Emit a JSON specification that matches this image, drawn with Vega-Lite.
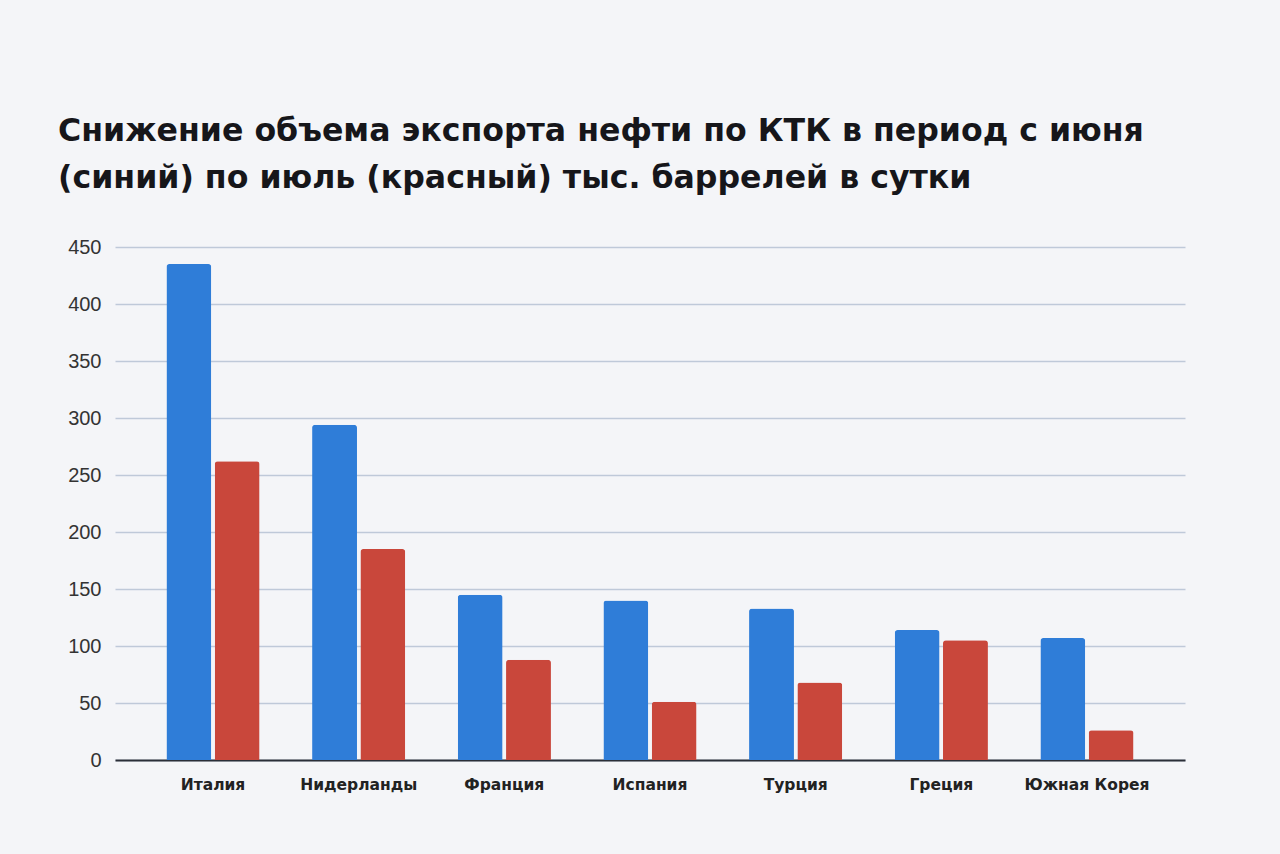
{
  "$schema": "https://vega.github.io/schema/vega-lite/v6.json",
  "background": "#f4f5f8",
  "autosize": "none",
  "width": 1070,
  "height": 513,
  "padding": {"left": 115, "top": 247, "right": 95, "bottom": 94},
  "title": {
    "text": ["Снижение объема экспорта нефти по КТК в период с июня", "(синий) по июль (красный) тыс. баррелей в сутки"],
    "anchor": "start",
    "frame": "group",
    "dx": -57,
    "offset": 42,
    "font": "DejaVu Sans",
    "fontSize": 31.6,
    "fontWeight": "bold",
    "color": "#16161a",
    "lineHeight": 47
  },
  "config": {"view": {"stroke": "transparent"}},
  "data": {
    "values": [
      {"country": "Италия", "period": "июнь", "value": 435},
      {"country": "Италия", "period": "июль", "value": 262},
      {"country": "Нидерланды", "period": "июнь", "value": 294},
      {"country": "Нидерланды", "period": "июль", "value": 185},
      {"country": "Франция", "period": "июнь", "value": 145},
      {"country": "Франция", "period": "июль", "value": 88},
      {"country": "Испания", "period": "июнь", "value": 140},
      {"country": "Испания", "period": "июль", "value": 51},
      {"country": "Турция", "period": "июнь", "value": 133},
      {"country": "Турция", "period": "июль", "value": 68},
      {"country": "Греция", "period": "июнь", "value": 114},
      {"country": "Греция", "period": "июль", "value": 105},
      {"country": "Южная Корея", "period": "июнь", "value": 107},
      {"country": "Южная Корея", "period": "июль", "value": 26}
    ]
  },
  "mark": {"type": "bar", "cornerRadiusTopLeft": 3, "cornerRadiusTopRight": 3},
  "encoding": {
    "x": {
      "field": "country",
      "type": "nominal",
      "sort": null,
      "title": null,
      "scale": {"paddingInner": 0.36, "paddingOuter": 0.353},
      "axis": {
        "labelAngle": 0,
        "labelFont": "DejaVu Sans",
        "labelFontSize": 15.5,
        "labelFontWeight": "bold",
        "labelColor": "#222222",
        "labelPadding": 17,
        "ticks": false,
        "domainColor": "#2b2f38",
        "domainWidth": 2
      }
    },
    "xOffset": {
      "field": "period",
      "type": "nominal",
      "sort": ["июнь", "июль"],
      "scale": {"paddingInner": 0.07}
    },
    "y": {
      "field": "value",
      "type": "quantitative",
      "title": null,
      "scale": {"domain": [0, 450]},
      "axis": {
        "values": [0, 50, 100, 150, 200, 250, 300, 350, 400, 450],
        "domain": false,
        "ticks": false,
        "labelFont": "Liberation Sans",
        "labelFontSize": 20,
        "labelColor": "#333333",
        "labelPadding": 14,
        "gridColor": "#bfc9d9",
        "gridWidth": 1.5
      }
    },
    "color": {
      "field": "period",
      "type": "nominal",
      "sort": ["июнь", "июль"],
      "scale": {"domain": ["июнь", "июль"], "range": ["#2f7dd8", "#c9473b"]},
      "legend": null
    }
  }
}
